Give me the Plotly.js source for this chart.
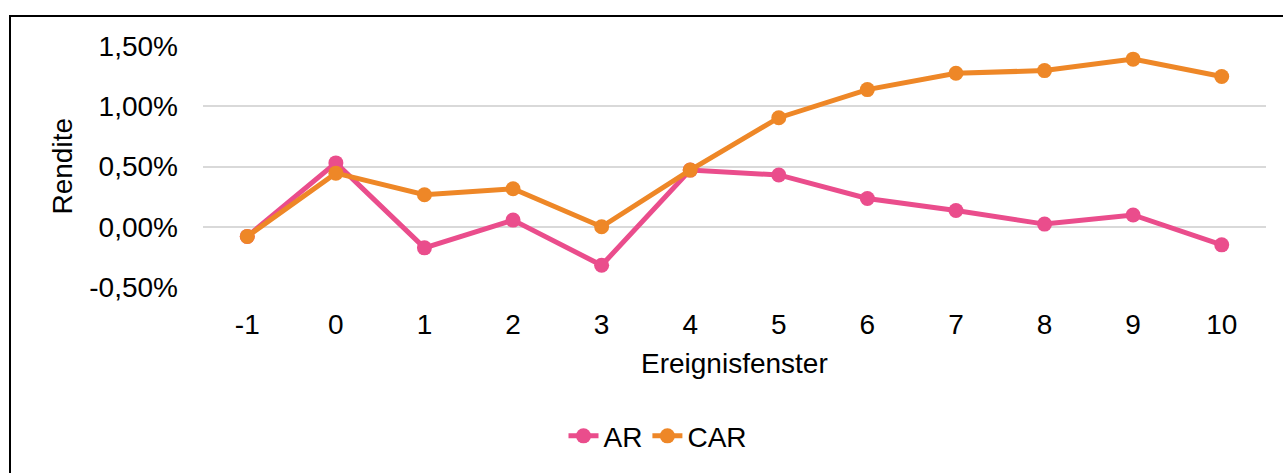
<!DOCTYPE html>
<html>
<head>
<meta charset="utf-8">
<script src="https://cdn.plot.ly/plotly-3.0.1.min.js"></script>
<style>
  html, body { margin: 0; padding: 0; background: #fff; }
  #wrap { position: relative; width: 1283px; height: 473px; overflow: hidden; }
  #chart { width: 1283px; height: 473px; }
  #frame { position: absolute; left: 9px; top: 15px; width: 1300px; height: 500px;
           border-left: 2px solid #000; border-top: 2px solid #000; pointer-events: none; box-sizing: border-box; }
</style>
</head>
<body>
<div id="wrap">
  <div id="chart"></div>
  <div id="frame"></div>
</div>
<script>
// ---- data ----
const categories = ["-1", "0", "1", "2", "3", "4", "5", "6", "7", "8", "9", "10"];
const arValues  = [-0.08, 0.53, -0.175, 0.055, -0.32, 0.47, 0.43, 0.235, 0.135, 0.022, 0.098, -0.15];
const carValues = [-0.08, 0.445, 0.266, 0.315, 0.0, 0.47, 0.905, 1.138, 1.274, 1.296, 1.391, 1.247];
const yTickVals = [-0.5, 0, 0.5, 1, 1.5];
const yTickText = ["-0,50%", "0,00%", "0,50%", "1,00%", "1,50%"];
const seriesNames = ["AR", "CAR"];
const xTitle = "Ereignisfenster";
const yTitle = "Rendite";

// ---- layout geometry (pixels) ----
const W = 1283, H = 473;
const plotL = 203, plotR = 1266, plotT = 45.7, plotB = 290.5;
const pw = plotR - plotL, ph = plotB - plotT;
const px2x = p => (p - plotL) / pw;
const px2y = p => (plotB - p) / ph;

const FONT = "Liberation Sans, Arial, sans-serif";
const FS = 28;
const pink = "#EA4D8C", orange = "#EE8727";

const traces = [
  { x: categories, y: arValues, name: seriesNames[0], type: "scatter", mode: "lines+markers",
    line: { color: pink, width: 5 }, marker: { color: pink, size: 15 } },
  { x: categories, y: carValues, name: seriesNames[1], type: "scatter", mode: "lines+markers",
    line: { color: orange, width: 5 }, marker: { color: orange, size: 15 } }
];

const layout = {
  width: W, height: H,
  margin: { l: plotL, r: W - plotR, t: plotT, b: H - plotB, pad: 0 },
  paper_bgcolor: "#fff", plot_bgcolor: "#fff",
  font: { family: FONT, size: FS, color: "#000" },
  showlegend: true,
  legend: { orientation: "h", x: px2x(658), xanchor: "center", y: px2y(442), yanchor: "middle",
            font: { family: FONT, size: FS, color: "#000" }, bgcolor: "rgba(0,0,0,0)",
            itemsizing: "trace", traceorder: "normal" },
  xaxis: { type: "category", range: [-0.5, 11.5], showgrid: false, zeroline: false, showline: false,
           ticks: "", ticklabelstandoff: 18, tickfont: { family: FONT, size: FS, color: "#000" },
           fixedrange: true },
  yaxis: { range: [-0.5, 1.5], tickvals: yTickVals, ticktext: yTickText, showgrid: true,
           gridcolor: "#D9D9D9", gridwidth: 2, zeroline: false, showline: false, ticks: "",
           ticklabelstandoff: 24, tickfont: { family: FONT, size: FS, color: "#000" }, fixedrange: true },
  annotations: [
    { text: xTitle, xref: "paper", yref: "paper", x: 0.5, y: px2y(368), xanchor: "center", yanchor: "middle",
      showarrow: false, font: { family: FONT, size: FS, color: "#000" } },
    { text: yTitle, xref: "paper", yref: "paper", x: px2x(62), y: 0.5, xanchor: "center", yanchor: "middle",
      textangle: -90, showarrow: false, font: { family: FONT, size: FS, color: "#000" } }
  ]
};

Plotly.newPlot("chart", traces, layout, { staticPlot: true, displayModeBar: false });
</script>
</body>
</html>
